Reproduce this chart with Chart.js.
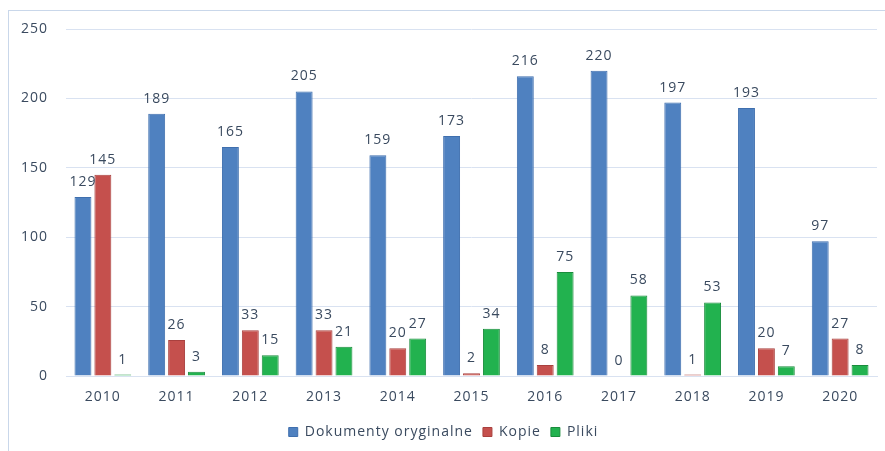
<!DOCTYPE html>
<html>
<head>
<meta charset="utf-8">
<script src="https://cdn.jsdelivr.net/npm/chart.js@4.4.0/dist/chart.umd.min.js"></script>
<style>
    html, body { margin: 0; padding: 0; background: #fff; }
    #wrap { position: relative; width: 885px; height: 451px; }
    #frame {
        position: absolute; left: 8px; top: 10px; right: 0; bottom: 0;
        border-left: 1px solid #c9d7ea; border-top: 1px solid #c9d7ea;
    }
    canvas { position: absolute; left: 0; top: 0; }
</style>
</head>
<body>
<div id="wrap">
    <div id="frame"></div>
    <canvas id="chart" width="885" height="451"></canvas>
</div>
<script>
const years = ['2010', '2011', '2012', '2013', '2014', '2015', '2016', '2017', '2018', '2019', '2020'];
const originals = [129, 189, 165, 205, 159, 173, 216, 220, 197, 193, 97];
const copies = [145, 26, 33, 33, 20, 2, 8, 0, 1, 20, 27];
const files = [1, 3, 15, 21, 27, 34, 75, 58, 53, 7, 8];

const textColor = '#3a4a5f';
const gridColor = '#d9e2f1';
const font = { family: '"Open Sans", sans-serif', size: 14 };

// a bit of letter spacing, the reference text runs wide
const spacing = {
    id: 'spacing',
    beforeUpdate(chart) { chart.ctx.letterSpacing = '1px'; },
    beforeDraw(chart) { chart.ctx.letterSpacing = '1px'; }
};

// value above every bar
const valueLabels = {
    id: 'valueLabels',
    afterDatasetsDraw(chart) {
        const ctx = chart.ctx;
        ctx.save();
        ctx.font = `${font.size}px ${font.family}`;
        ctx.fillStyle = textColor;
        ctx.textAlign = 'center';
        ctx.textBaseline = 'alphabetic';
        chart.data.datasets.forEach((ds, i) => {
            chart.getDatasetMeta(i).data.forEach((bar, j) => {
                ctx.fillText(String(ds.data[j]), bar.x, bar.y - 11);
            });
        });
        ctx.restore();
    }
};

new Chart(document.getElementById('chart'), {
    type: 'bar',
    data: {
        labels: years,
        datasets: [
            { label: 'Dokumenty oryginalne', data: originals, backgroundColor: '#4f81c0', borderColor: '#3f6fae', borderWidth: 1 },
            { label: 'Kopie', data: copies, backgroundColor: '#c5504d', borderColor: '#a9403e', borderWidth: 1 },
            { label: 'Pliki', data: files, backgroundColor: '#22b24f', borderColor: '#1a8c3c', borderWidth: 1 }
        ]
    },
    options: {
        responsive: false,
        animation: false,
        categoryPercentage: 0.81,
        barPercentage: 0.85,
        layout: { padding: { left: 10, right: 8, top: 29, bottom: 2 } },
        plugins: {
            legend: {
                position: 'bottom',
                labels: { color: textColor, font, boxWidth: 9, boxHeight: 9, padding: 10 }
            },
            tooltip: { enabled: false }
        },
        scales: {
            x: {
                grid: { display: false, drawTicks: false },
                border: { color: gridColor },
                ticks: { color: textColor, font, padding: 13 },
                afterFit(scale) { scale.height = 39; }
            },
            y: {
                min: 0,
                max: 250,
                grid: { color: gridColor, drawTicks: false },
                border: { display: false },
                ticks: { stepSize: 50, color: textColor, font, padding: 18 },
                afterFit(scale) { scale.width = 56; }
            }
        }
    },
    plugins: [spacing, valueLabels]
});
</script>
</body>
</html>
